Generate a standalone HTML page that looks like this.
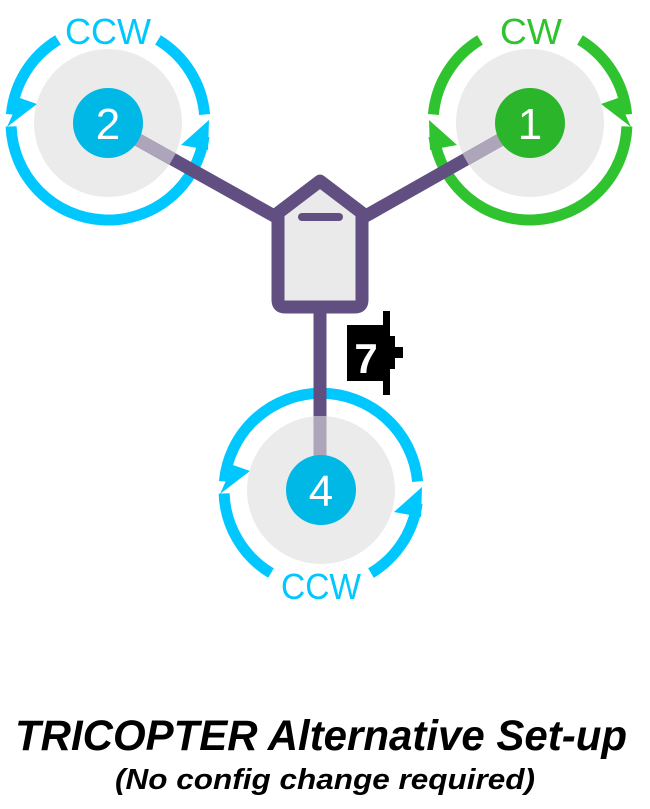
<!DOCTYPE html>
<html><head><style>html,body{margin:0;padding:0;background:#fff}svg{display:block}</style></head>
<body>
<svg width="650" height="809" viewBox="0 0 650 809" xmlns="http://www.w3.org/2000/svg">
<defs>
<g id="ring2" fill="none" stroke-width="11">
<path d="M -50,-83.1 A 97 97 0 0 0 -96.6,-8.5"/>
<path d="M -96.9,3.4 A 97 97 0 0 0 96.1,13.5"/>
<path d="M 96.6,-8.5 A 97 97 0 0 0 50,-83.1"/>
</g>
<g id="tri2">
<polygon points="-101,4 -88,-25 -71,-19"/>
<polygon points="73,22 101,-3 100,27"/>
</g>
</defs>

<g transform="translate(108,123)">
<g stroke="#00c8ff"><use href="#ring2"/></g>
<g fill="#00c8ff"><use href="#tri2"/></g>
<circle r="74" fill="#ebebeb"/>
</g>
<g transform="translate(530,123) scale(-1,1)">
<g stroke="#2fc42f"><use href="#ring2"/></g>
<g fill="#2fc42f"><use href="#tri2"/></g>
<circle r="74" fill="#ebebeb"/>
</g>
<g transform="translate(321,490)">
<g fill="none" stroke="#00c8ff" stroke-width="11">
<path d="M -96.6,-8.5 A 97 97 0 0 1 96.6,-8.5"/>
<path d="M 96.1,13.5 A 97 97 0 0 1 50,83.1"/>
<path d="M -50,83.1 A 97 97 0 0 1 -96.9,3.4"/>
</g>
<g fill="#00c8ff"><use href="#tri2"/></g>
<circle r="74" fill="#ebebeb"/>
</g>

<g stroke="#604f80" stroke-width="13" stroke-linecap="butt">
<line x1="108" y1="123" x2="285" y2="222"/>
<line x1="530" y1="123" x2="355" y2="222"/>
<line x1="320" y1="300" x2="320" y2="490"/>
</g>
<g stroke="#aea5ba" stroke-width="13">
<line x1="108" y1="123" x2="172.6" y2="159"/>
<line x1="530" y1="123" x2="465.6" y2="159.4"/>
<line x1="320" y1="416" x2="320" y2="490"/>
</g>

<path d="M 320,181 L 362,213 L 362,300 Q 362,307 355,307 L 285,307 Q 278,307 278,300 L 278,213 Z" fill="#eaeaea" stroke="#604f80" stroke-width="13" stroke-linejoin="round"/>
<line x1="302" y1="217" x2="339" y2="217" stroke="#604f80" stroke-width="8" stroke-linecap="round"/>

<rect x="347" y="325" width="42" height="56" fill="#000"/>
<rect x="383" y="311" width="7" height="84" fill="#000"/>
<rect x="389" y="336" width="6" height="33" fill="#000"/>
<rect x="394" y="347" width="9" height="11" fill="#000"/>
<text x="366" y="373" font-family="Liberation Sans, sans-serif" font-weight="bold" font-size="42" fill="#fff" text-anchor="middle">7</text>

<circle cx="108" cy="123" r="35" fill="#00b8e6"/>
<text x="108" y="139" font-family="Liberation Sans, sans-serif" font-size="44" fill="#fff" text-anchor="middle">2</text>
<circle cx="530" cy="123" r="35" fill="#2bb52b"/>
<text x="530" y="139" font-family="Liberation Sans, sans-serif" font-size="44" fill="#fff" text-anchor="middle">1</text>
<circle cx="321" cy="490" r="35" fill="#00b8e6"/>
<text x="321" y="506" font-family="Liberation Sans, sans-serif" font-size="44" fill="#fff" text-anchor="middle">4</text>

<text x="108" y="44" font-family="Liberation Sans, sans-serif" font-size="36" fill="#00c8ff" text-anchor="middle" textLength="86" lengthAdjust="spacingAndGlyphs">CCW</text>
<text x="531" y="44" font-family="Liberation Sans, sans-serif" font-size="36" fill="#2fc42f" text-anchor="middle" textLength="62" lengthAdjust="spacingAndGlyphs">CW</text>
<text x="321" y="599" font-family="Liberation Sans, sans-serif" font-size="36" fill="#00c8ff" text-anchor="middle" textLength="80" lengthAdjust="spacingAndGlyphs">CCW</text>

<text x="321" y="750" font-family="Liberation Sans, sans-serif" font-weight="bold" font-style="italic" font-size="43" fill="#000" text-anchor="middle" textLength="612" lengthAdjust="spacingAndGlyphs">TRICOPTER Alternative Set-up</text>
<text x="325" y="789" font-family="Liberation Sans, sans-serif" font-weight="bold" font-style="italic" font-size="29" fill="#000" text-anchor="middle" textLength="420" lengthAdjust="spacingAndGlyphs">(No config change required)</text>
</svg>
</body></html>
